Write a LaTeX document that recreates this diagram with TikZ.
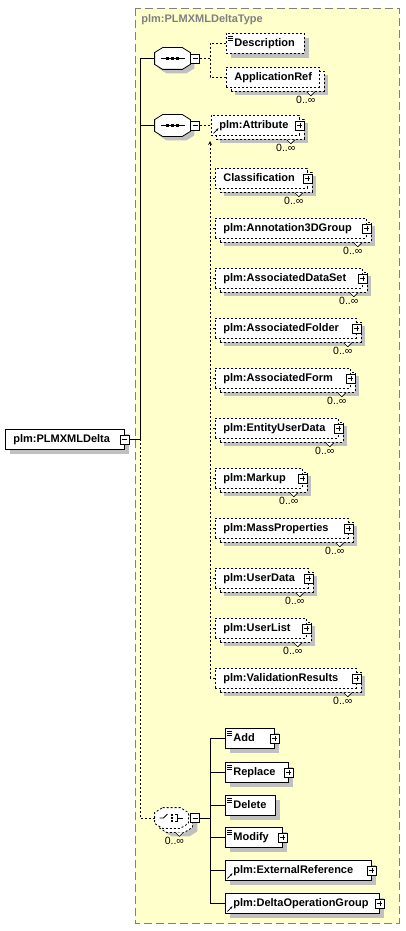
\documentclass[tikz,border=0pt]{standalone}
\usepackage{fontspec}
\setmainfont{Liberation Sans}
\usetikzlibrary{arrows.meta}

\definecolor{typefill}{RGB}{255,255,204}
\definecolor{typeline}{RGB}{128,128,128}
\definecolor{shade}{RGB}{192,192,192}

% element box: name, left, top, right, text
\newcommand\xsdElem[6][]{%
  \pgfmathsetmacro\xsdw{#5-#3-16}%
  \node[elem,#1,text width=\xsdw pt] (#2) at (#3,#4) {\mbox{#6}};}
% notch and 0..oo under a repeated element
\newcommand\xsdMult[1]{%
  \draw[fill=white,line width=0.6pt] ([shift={(-13pt,-4pt)}]#1.south east) -- ++(4,4) -- ++(4,-4);
  \node[mult] (#1-n) at ([shift={(-14pt,-16pt)}]#1.south east) {0..∞};}
% octagon round a compositor node
\newcommand\xsdOct[2]{%
  \path[#2] ([xshift=8pt]#1.north west) -- ([xshift=-8pt]#1.north east) -- ([yshift=-5pt]#1.north east)
    -- ([yshift=5pt]#1.south east) -- ([xshift=-8pt]#1.south east) -- ([xshift=8pt]#1.south west)
    -- ([yshift=5pt]#1.south west) -- ([yshift=-5pt]#1.north west) -- cycle;}
% sequence sign
\newcommand\xsdSeq[1]{%
  \draw ([xshift=-12pt]#1.center) -- ([xshift=12pt]#1.center);
  \foreach \dx in {-5,0,5}
    \fill ([xshift=\dx pt]#1.center) +(-1.4,-1.4) rectangle +(1.4,1.4);}
% choice sign
\newcommand\xsdChoice[1]{%
  \draw ([xshift=-12pt]#1.center) -- ++(4,0) -- ++(4,-4);
  \foreach \dy in {-3.2,0,3.2}
    \fill ([shift={(0.5pt,\dy pt)}]#1.center) +(-1.3,-1.2) rectangle +(1.3,1.2);
  \draw ([shift={(3pt,3.5pt)}]#1.center) -- ++(3,0) -- ++(0,7) -- ++(-3,0)
    ([xshift=6pt]#1.center) -- ++(5,0);}

\begin{document}
\begin{tikzpicture}[x=1pt, y=-1pt, line width=0.8pt, >=stealth,
  elem/.style={draw, fill=white, anchor=north west, minimum height=20pt,
    inner xsep=8pt, inner ysep=0pt, text height=8pt, text depth=2pt, align=left,
    font=\bfseries\fontsize{11}{13}\selectfont,
    preaction={fill=shade, transform canvas={shift={(5pt,-5pt)}}}},
  opt/.style={dash pattern=on 2pt off 2pt},
  optline/.style={dash pattern=on 2pt off 2pt},
  many/.style={preaction={fill=shade, transform canvas={shift={(9pt,-8pt)}}},
    preaction={draw, fill=white, dash pattern=on 2pt off 2pt, transform canvas={shift={(5pt,-4pt)}}}},
  doc/.style={path picture={\foreach \k in {2.5,4.5,6.5}
    \draw[solid, line width=0.6pt] ([shift={(2pt,-\k pt)}]path picture bounding box.north west) -- ++(5pt,0pt);}},
  ref/.style={path picture={\draw[solid, line width=0.7pt, -{Stealth[length=2.5pt,width=2.5pt]}]
    ([shift={(2pt,2pt)}]path picture bounding box.south west) -- ++(5pt,5pt);}},
  pm/.style={draw, fill=white, minimum size=9pt, inner sep=0pt, line width=0.6pt},
  minusbox/.style={pm, path picture={\draw[solid, line width=0.6pt]
    ([xshift=2pt]path picture bounding box.west) -- ([xshift=-2pt]path picture bounding box.east);}},
  plusbox/.style={pm, path picture={\draw[solid, line width=0.6pt]
    ([xshift=2pt]path picture bounding box.west) -- ([xshift=-2pt]path picture bounding box.east)
    ([yshift=-2pt]path picture bounding box.north) -- ([yshift=2pt]path picture bounding box.south);}},
  comp/.style={minimum width=35pt, minimum height=21pt, inner sep=0pt},
  mult/.style={anchor=base, inner sep=0pt, font=\fontsize{10.5}{12}\selectfont}]

  \useasboundingbox (0,0) rectangle (405,931);
  \fill[white] (0,0) rectangle (405,931);

  % complex type frame
  \draw[typeline, fill=typefill, dash pattern=on 8pt off 4pt] (135,8) rectangle (399,923);
  \node[anchor=base west, inner sep=0pt, text=typeline, font=\bfseries\fontsize{11}{13}\selectfont]
    (title) at (141,23) {plm:PLMXMLDeltaType};

  % root element
  \xsdElem{root}{5}{429}{124}{plm:PLMXMLDelta}
  \node[minusbox] (root-m) at (root.east) {};

  % first sequence
  \node[comp] (seq1) at (172.5,58.5) {};
  \xsdOct{seq1}{fill=shade, transform canvas={shift={(4pt,-4pt)}}}
  \xsdOct{seq1}{draw, fill=white}
  \xsdSeq{seq1}
  \node[minusbox, anchor=west] (seq1-m) at (seq1.east) {};
  \xsdElem[opt,doc]{desc}{226}{33}{304}{Description}
  \xsdElem[opt,many]{appref}{226}{67}{319}{ApplicationRef}
  \xsdMult{appref}

  % second sequence
  \node[comp] (seq2) at (172.5,125.5) {};
  \xsdOct{seq2}{fill=shade, transform canvas={shift={(4pt,-4pt)}}}
  \xsdOct{seq2}{draw, fill=white}
  \xsdSeq{seq2}
  \node[minusbox, anchor=west] (seq2-m) at (seq2.east) {};
  \xsdElem[opt,many,ref]{attr}{211}{115}{299}{plm:Attribute}
  \node[plusbox] (attr-p) at (attr.east) {};
  \xsdMult{attr}
  \foreach \n/\t/\r/\s in {cls/168/307/Classification, ann/218/366/plm:Annotation3DGroup,
      dset/268/362/plm:AssociatedDataSet, fold/318/356/plm:AssociatedFolder,
      form/368/350/plm:AssociatedForm, eud/418/338/plm:EntityUserData,
      mark/468/302/plm:Markup, mass/518/348/plm:MassProperties,
      udata/568/308/plm:UserData, ulist/618/306/plm:UserList,
      vres/668/356/plm:ValidationResults}{
    \xsdElem[opt,many]{\n}{215}{\t}{\r}{\s}
    \node[plusbox] (\n-p) at (\n.east) {};
    \xsdMult{\n}
  }

  % choice
  \node[comp, minimum width=33pt, minimum height=20pt] (choice) at (171.5,818) {};
  \xsdOct{choice}{fill=shade, transform canvas={shift={(9pt,-8pt)}}}
  \xsdOct{choice}{draw, fill=white, optline, transform canvas={shift={(4pt,-4pt)}}}
  \xsdOct{choice}{draw, fill=white, optline}
  \xsdChoice{choice}
  \node[minusbox, anchor=west] (choice-m) at ([xshift=2pt]choice.east) {};
  \xsdMult{choice}
  \xsdElem[doc]{add}{225}{728}{274}{Add}
  \node[plusbox] (add-p) at (add.east) {};
  \xsdElem[doc]{replace}{225}{762}{288}{Replace}
  \node[plusbox] (replace-p) at (replace.east) {};
  \xsdElem[doc]{delete}{225}{795}{275}{Delete}
  \xsdElem[doc]{modify}{225}{827}{282}{Modify}
  \node[plusbox] (modify-p) at (modify.east) {};
  \xsdElem[ref]{extref}{225}{860}{371}{plm:ExternalReference}
  \node[plusbox] (extref-p) at (extref.east) {};
  \xsdElem[ref]{dog}{225}{893}{379}{plm:DeltaOperationGroup}
  \node[plusbox] (dog-p) at (dog.east) {};

  % connectors
  \coordinate (trunk) at (140,439.5);
  \draw (root-m) -- (trunk);
  \draw (seq1.west) -| (trunk);
  \draw (seq2.west) -| (trunk);
  \draw[optline] (choice.west) -| (trunk);

  \coordinate (bar1) at (210,58.5);
  \draw[optline] (seq1-m) -- (bar1);
  \draw[optline] (desc.west) -| (bar1);
  \draw[optline] (appref.west) -| (bar1);

  \draw[optline] (seq2-m) -- (seq2-m -| attr.west);
  \coordinate (bar2a) at (210,141);
  \coordinate (bar2b) at (210,678);
  \draw[optline,->] (bar2b) -- (bar2a);
  \foreach \n in {cls,ann,dset,fold,form,eud,mark,mass,udata,ulist,vres}
    \draw[optline] (\n.west) -- (\n.west -| bar2a);

  \coordinate (bar3) at (210,818);
  \draw (choice-m) -- (bar3);
  \foreach \n in {add,replace,delete,modify,extref,dog}
    \draw (\n.west) -| (bar3);
\end{tikzpicture}
\end{document}
